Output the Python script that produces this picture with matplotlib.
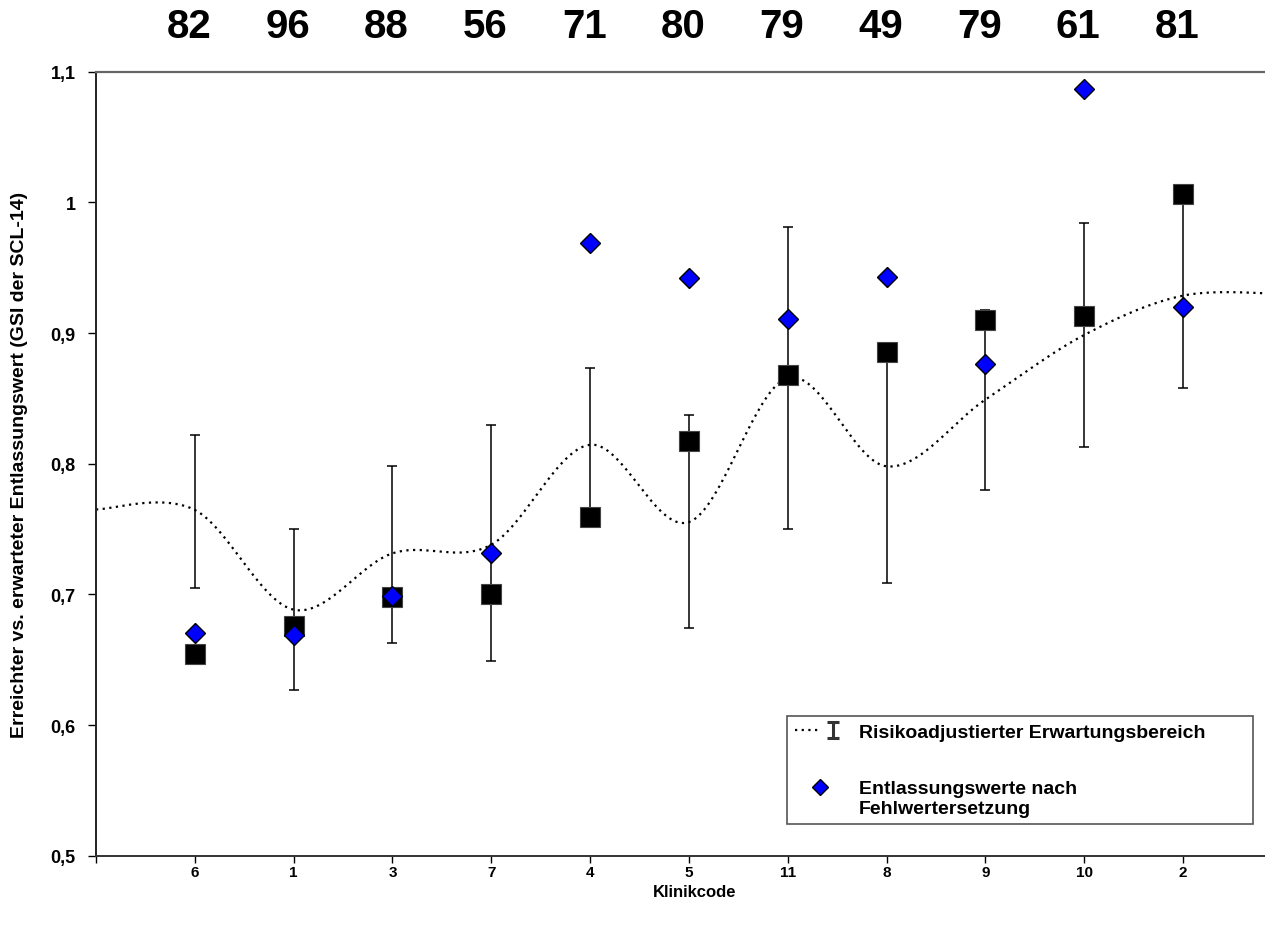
import numpy as np
import matplotlib
matplotlib.use("Agg")
import matplotlib.pyplot as plt
from matplotlib.lines import Line2D
from matplotlib.path import Path
from matplotlib.legend_handler import HandlerTuple, HandlerLine2D
from matplotlib.ticker import FuncFormatter, FixedLocator
from matplotlib.transforms import blended_transform_factory

plt.rcParams["font.family"] = ["Liberation Sans", "DejaVu Sans"]
plt.rcParams["font.weight"] = "bold"

# Klinikcodes in Reihenfolge auf der x-Achse
KLINIKCODES = ["6", "1", "3", "7", "4", "5", "11", "8", "9", "10", "2"]
FALLZAHLEN = [82, 96, 88, 56, 71, 80, 79, 49, 79, 61, 81]

# erwarteter Entlassungswert (gepunktete Linie) und Erwartungsbereich
ERWARTET = [0.7646, 0.6883, 0.7314, 0.7380, 0.8145, 0.7553, 0.8657, 0.7980, 0.8490, 0.8985, 0.9286]
ERWARTET_START = 0.765
ERWARTET_ENDE = 0.930
UNTERGRENZE = [0.705, 0.627, 0.663, 0.649, 0.756, 0.674, 0.750, 0.709, 0.780, 0.8125, 0.858]
OBERGRENZE = [0.822, 0.750, 0.7985, 0.830, 0.873, 0.837, 0.981, 0.887, 0.918, 0.984, 0.999]

# erreichte Entlassungswerte (Quadrate) und nach Fehlwertersetzung (Rauten)
ERREICHT = [0.654, 0.6756, 0.698, 0.700, 0.7594, 0.8176, 0.8679, 0.8855, 0.910, 0.9128, 1.0062]
FEHLWERTERSETZT = [0.6704, 0.669, 0.6985, 0.7314, 0.9691, 0.9421, 0.9105, 0.9431, 0.876, 1.0868, 0.9197]


def glatte_kurve(xs, ys, n=40):
    # Catmull-Rom wie die geglaettete Linie in Excel
    xs = np.asarray(xs, float)
    ys = np.asarray(ys, float)
    px = np.concatenate([[xs[0]], xs, [xs[-1]]])
    py = np.concatenate([[ys[0]], ys, [ys[-1]]])
    out_x, out_y = [], []
    t = np.linspace(0, 1, n)
    for i in range(1, len(px) - 2):
        for p, out in ((px, out_x), (py, out_y)):
            p0, p1, p2, p3 = p[i - 1], p[i], p[i + 1], p[i + 2]
            m1 = (p2 - p0) / 2
            m2 = (p3 - p1) / 2
            h00 = 2 * t**3 - 3 * t**2 + 1
            h10 = t**3 - 2 * t**2 + t
            h01 = -2 * t**3 + 3 * t**2
            h11 = t**3 - t**2
            out.extend(h00 * p1 + h10 * m1 + h01 * p2 + h11 * m2)
    return np.array(out_x), np.array(out_y)


class HandlerOben(HandlerLine2D):
    # Raute auf Hoehe der ersten Textzeile
    def __init__(self, hoch, **kw):
        super().__init__(**kw)
        self.hoch = hoch

    def create_artists(self, legend, orig_handle, xdescent, ydescent, width, height, fontsize, trans):
        return super().create_artists(legend, orig_handle, xdescent, ydescent - 2 * self.hoch,
                                      width, height, fontsize, trans)


x = np.arange(1, len(KLINIKCODES) + 1)
erw = np.array(ERWARTET)
unten = erw - np.array(UNTERGRENZE)
oben = np.array(OBERGRENZE) - erw

fig = plt.figure(figsize=(12.65, 9.29), dpi=100)
ax = fig.add_axes([96 / 1265, 72.3 / 929, 1 - 96 / 1265, 784 / 929])

kx = np.concatenate([[0], x, [len(x) + 1]])
ky = np.concatenate([[ERWARTET_START], erw, [ERWARTET_ENDE]])
sx, sy = glatte_kurve(kx, ky)
ax.plot(sx, sy, color="black", linestyle=(0, (1, 2)), linewidth=1.6, zorder=2)

ax.errorbar(x, erw, yerr=[unten, oben], fmt="none", ecolor="black",
            elinewidth=1.1, capsize=3.8, capthick=1.1, zorder=3)

ax.plot(x, ERREICHT, linestyle="none", marker="s", markersize=15,
        markerfacecolor="black", markeredgecolor="#444444", markeredgewidth=0.8, zorder=4)
ax.plot(x, FEHLWERTERSETZT, linestyle="none", marker="D", markersize=10.5,
        markerfacecolor="#0000FF", markeredgecolor="black", markeredgewidth=1.0, zorder=5)

ax.set_xlim(0, 11.83)
ax.set_ylim(0.5, 1.1)
ax.xaxis.set_major_locator(FixedLocator(np.arange(0, len(x) + 1)))
ax.set_xticklabels([""] + KLINIKCODES)
ax.yaxis.set_major_locator(FixedLocator(np.round(np.arange(0.5, 1.11, 0.1), 1)))
ax.yaxis.set_major_formatter(FuncFormatter(lambda v, p: f"{v:g}".replace(".", ",")))
ax.tick_params(axis="y", direction="out", length=5.8, width=1, labelsize=13, pad=9)
ax.tick_params(axis="x", direction="out", length=5, width=1, labelsize=11, pad=1.5)

ax.spines["right"].set_visible(False)
ax.spines["top"].set_color("#666666")
ax.spines["top"].set_linewidth(1.6)
ax.spines["left"].set_color("#222222")
ax.spines["left"].set_linewidth(1.4)
ax.spines["bottom"].set_color("#333333")
ax.spines["bottom"].set_linewidth(1.4)

ax.set_ylabel("Erreichter vs. erwarteter Entlassungswert (GSI der SCL-14)",
              fontsize=14, fontweight="bold")
ax.yaxis.set_label_coords(-0.058, 0.5)
ax.set_xlabel("Klinikcode", fontsize=12, fontweight="bold")
ax.xaxis.set_label_coords(0.512, -0.046)
ax.xaxis.label.set_va("center")

trans = blended_transform_factory(ax.transData, fig.transFigure)
for xi, n in zip(x, FALLZAHLEN):
    ax.text(xi - 0.06, 1 - 27 / 929, str(n), transform=trans, ha="center", va="center",
            fontsize=29, fontweight="bold", clip_on=False)

# Legende
ibeam = Path([(-0.35, 0.5), (0.35, 0.5), (0, 0.5), (0, -0.5), (-0.35, -0.5), (0.35, -0.5)],
             [Path.MOVETO, Path.LINETO, Path.MOVETO, Path.LINETO, Path.MOVETO, Path.LINETO])
h_linie = Line2D([], [], color="black", linestyle=(0, (1, 2)), linewidth=1.6)
h_balken = Line2D([], [], linestyle="none", marker=ibeam, markersize=12,
                  markeredgecolor="#333333", markeredgewidth=2.2)
h_raute = Line2D([], [], linestyle="none", marker="D", markersize=8,
                 markerfacecolor="#0000FF", markeredgecolor="black", markeredgewidth=1.0)
leg = ax.legend([(h_linie, h_balken), h_raute],
                ["Risikoadjustierter Erwartungsbereich", "Entlassungswerte nach\nFehlwertersetzung"],
                handler_map={tuple: HandlerTuple(ndivide=2, pad=0), h_raute: HandlerOben(8)},
                loc="upper left", bbox_to_anchor=(0.591, 0.1786, 0.399, 0.0), mode="expand",
                borderaxespad=0, prop={"weight": "bold", "size": 14}, labelspacing=2.0,
                handlelength=2.6, handletextpad=0.72, borderpad=0.4,
                fancybox=False, framealpha=1, edgecolor="#555555")
leg.get_frame().set_linewidth(1.2)

fig.savefig("out.png", dpi=100)
